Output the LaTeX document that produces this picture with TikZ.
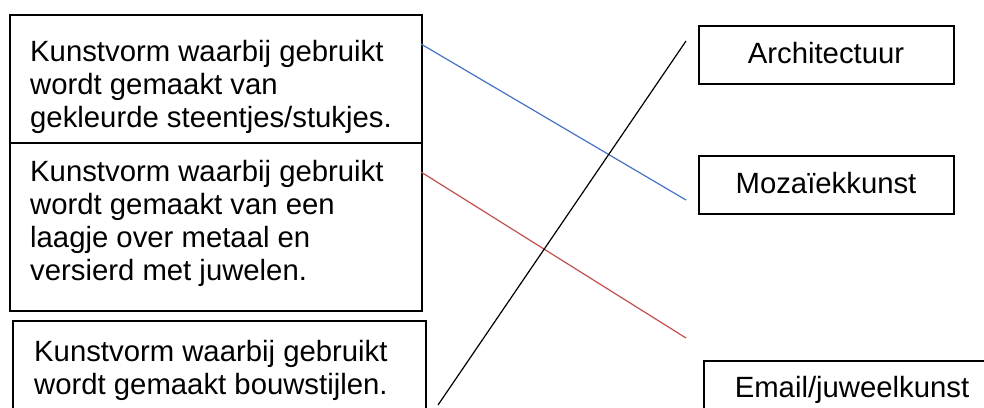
\documentclass[tikz,border=0pt]{standalone}
\usepackage{fontspec}
\setmainfont{Liberation Sans}
\definecolor{lblue}{RGB}{68,114,196}
\definecolor{lred}{RGB}{192,80,77}
\begin{document}
\begin{tikzpicture}[x=1pt,y=1pt,
  box/.style={draw=black, line width=1.6pt, inner sep=0pt, anchor=north west},
  txt/.style={anchor=base west, align=left, inner sep=0pt, font=\fontsize{29.3}{32.8}\selectfont},
  ctxt/.style={anchor=base, inner sep=0pt, font=\fontsize{29.3}{32.8}\selectfont},
  conn/.style={line width=1.2pt}]
\useasboundingbox (0,0) rectangle (984,-407);
% left boxes
\node[box, minimum width=412, minimum height=128] (b1) at (9,-14) {};
\node[box, minimum width=412, minimum height=168] (b2) at (9,-142) {};
\node[box, minimum width=413, minimum height=110] (b3) at (12,-320) {};
\node[txt] (t1) at (30,-127) {Kunstvorm waarbij gebruikt\\wordt gemaakt van\\gekleurde steentjes/stukjes.};
\node[txt] (t2) at (30,-280) {Kunstvorm waarbij gebruikt\\wordt gemaakt van een\\laagje over metaal en\\versierd met juwelen.};
\node[txt] (t3) at (34,-394) {Kunstvorm waarbij gebruikt\\wordt gemaakt bouwstijlen.};
% right boxes
\node[box, minimum width=255, minimum height=58] (r1) at (698,-25) {};
\node[box, minimum width=255, minimum height=58] (r2) at (698,-155) {};
\node[box, minimum width=300, minimum height=70] (r3) at (703,-360) {};
\node[ctxt] (s1) at (826,-63) {Architectuur};
\node[ctxt] (s2) at (826,-193) {Mozaïekkunst};
\node[ctxt] (s3) at (852,-397) {Email/juweelkunst};
% connector ends
\coordinate (a1) at (421,-44);
\coordinate (a2) at (686,-200);
\coordinate (c1) at (421,-172);
\coordinate (c2) at (686,-338);
\coordinate (d1) at (438,-405);
\coordinate (d2) at (686,-41);
\draw[conn, lblue] (a1) -- (a2);
\draw[conn, lred] (c1) -- (c2);
\draw[conn, black] (d1) -- (d2);
\end{tikzpicture}
\end{document}
